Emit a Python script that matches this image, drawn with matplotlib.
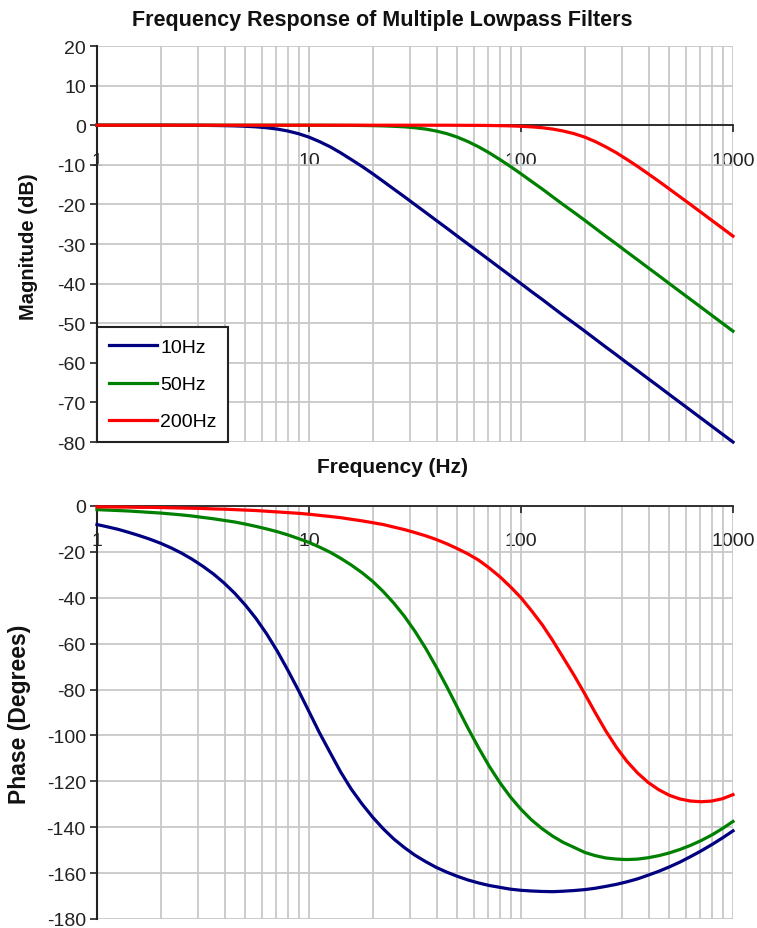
import numpy as np
import matplotlib
matplotlib.use('Agg')
import matplotlib.pyplot as plt
from matplotlib.ticker import LogLocator, NullFormatter

plt.rcParams['font.family'] = ['Liberation Sans', 'DejaVu Sans']
plt.rcParams['axes.unicode_minus'] = False

# frequencies (Hz) and values
freq = [1, 1.12, 1.26, 1.41, 1.58, 1.78, 2.0, 2.24, 2.51, 2.82,
        3.16, 3.55, 3.98, 4.47, 5.01, 5.62, 6.31, 7.08, 7.94, 8.91,
        10, 11.2, 12.6, 14.1, 15.8, 17.8, 20.0, 22.4, 25.1, 28.2,
        31.6, 35.5, 39.8, 44.7, 50.1, 56.2, 63.1, 70.8, 79.4, 89.1,
        100, 112, 126, 141, 158, 178, 200, 224, 251, 282,
        316, 355, 398, 447, 501, 562, 631, 708, 794, 891,
        1000]

mag_10 = [0, 0, 0, 0, 0, 0, 0, 0, -0.02, -0.03,
          -0.04, -0.07, -0.11, -0.17, -0.27, -0.41, -0.64, -0.97, -1.46, -2.13,
          -3.01, -4.13, -5.46, -6.97, -8.64, -10.41, -12.27, -14.17, -16.11, -18.07,
          -20.04, -22.03, -24.02, -26.01, -28.01, -30, -32, -34, -36, -38,
          -40, -42, -44, -46, -48, -50, -52, -54, -56, -58,
          -60, -62, -64, -66, -68, -70, -72, -74, -76, -78,
          -80]
mag_50 = [0, 0, 0, 0, 0, 0, 0, 0, 0, 0,
          0, 0, 0, 0, 0, 0, 0, 0, 0, 0,
          0, 0, -0.02, -0.03, -0.04, -0.07, -0.11, -0.17, -0.27, -0.41,
          -0.64, -0.97, -1.46, -2.13, -3.01, -4.13, -5.46, -6.97, -8.64, -10.41,
          -12.27, -14.17, -16.11, -18.07, -20.04, -22.03, -24.02, -26.01, -28.01, -30,
          -32, -34, -36, -38, -40, -42, -44, -46, -48, -50,
          -52]
mag_200 = [0, 0, 0, 0, 0, 0, 0, 0, 0, 0,
           0, 0, 0, 0, 0, 0, 0, 0, 0, 0,
           0, 0, 0, 0, 0, 0, 0, 0, 0, 0,
           0, 0, 0, 0, -0.02, -0.03, -0.04, -0.07, -0.11, -0.17,
           -0.27, -0.41, -0.64, -0.97, -1.46, -2.13, -3.01, -4.13, -5.46, -6.97,
           -8.64, -10.41, -12.27, -14.17, -16.11, -18.07, -20.04, -22.03, -24.02, -26.01,
           -28.01]

phase_10 = [-8.1, -9.1, -10.2, -11.5, -12.9, -14.5, -16.3, -18.3, -20.6, -23.3,
            -26.3, -29.7, -33.6, -38.1, -43.2, -49.0, -55.7, -63.2, -71.5, -80.3,
            -89.6, -98.8, -107.6, -115.9, -123.3, -129.9, -135.7, -140.7, -145.1, -148.9,
            -152.2, -155.0, -157.5, -159.6, -161.4, -163.0, -164.3, -165.4, -166.2, -167.0,
            -167.5, -167.8, -168.0, -168.1, -167.9, -167.6, -167.2, -166.6, -165.8, -164.9,
            -163.8, -162.5, -160.9, -159.2, -157.3, -155.2, -152.8, -150.3, -147.6, -144.7,
            -141.6]
phase_50 = [-1.6, -1.8, -2.0, -2.2, -2.5, -2.8, -3.1, -3.5, -3.9, -4.4,
            -5.0, -5.6, -6.3, -7.0, -7.9, -8.9, -10.0, -11.2, -12.6, -14.2,
            -15.9, -17.9, -20.2, -22.8, -25.7, -29.1, -32.9, -37.3, -42.3, -48.1,
            -54.6, -62.0, -70.1, -78.8, -87.8, -96.8, -105.4, -113.4, -120.5, -126.8,
            -132.2, -136.8, -140.7, -143.9, -146.6, -148.8, -151.0, -152.4, -153.4, -153.9,
            -154.1, -153.9, -153.3, -152.4, -151.2, -149.7, -147.9, -145.8, -143.4, -140.6,
            -137.5]
phase_200 = [-0.4, -0.4, -0.5, -0.5, -0.6, -0.6, -0.7, -0.8, -0.9, -1.0,
             -1.1, -1.3, -1.4, -1.6, -1.8, -2.0, -2.3, -2.6, -2.9, -3.2,
             -3.6, -4.1, -4.6, -5.1, -5.8, -6.5, -7.3, -8.1, -9.2, -10.3,
             -11.6, -13.0, -14.6, -16.5, -18.6, -20.9, -23.6, -27.0, -30.8, -35.2,
             -40.0, -45.6, -51.8, -58.6, -66.0, -73.8, -81.9, -90.1, -98.0, -105.2,
             -111.3, -116.4, -120.5, -123.7, -126.1, -127.7, -128.6, -128.9, -128.6, -127.6,
             -125.8]

labels = ['10Hz', '50Hz', '200Hz']
colors = ['#000080', '#008000', '#ff0000']
grid_col = '#c8c8c8'

fig = plt.figure(figsize=(7.57, 9.29), dpi=100)
ax1 = fig.add_axes([0.1281, 0.5231, 0.8402, 0.4263])
ax2 = fig.add_axes([0.1281, 0.0097, 0.8402, 0.4446])


def style_axis(ax, ylim, yticks):
    ax.set_xscale('log')
    ax.set_xlim(1, 1000)
    ax.set_ylim(*ylim)
    ax.set_yticks(yticks)
    ax.set_yticklabels([str(v) for v in yticks])
    ax.set_xticks([1, 10, 100, 1000])
    ax.set_xticklabels(['1', '10', '100', '1000'])
    ax.xaxis.set_minor_locator(LogLocator(base=10, subs=np.arange(2, 10)))
    ax.xaxis.set_minor_formatter(NullFormatter())
    ax.grid(True, which='both', axis='x', color=grid_col, lw=1.3, zorder=0)
    ax.grid(True, which='major', axis='y', color=grid_col, lw=1.3, zorder=0)
    ax.set_axisbelow(True)
    ax.spines['top'].set_visible(False)
    ax.spines['right'].set_visible(False)
    ax.spines['bottom'].set_position(('data', 0))
    ax.spines['bottom'].set_color('#222222')
    ax.spines['left'].set_color('#222222')
    ax.spines['bottom'].set_linewidth(1.3)
    ax.spines['left'].set_linewidth(1.5)
    ax.tick_params(axis='x', which='major', direction='out', length=5, width=1.2,
                   pad=14, labelsize=14, colors='#222222')
    ax.tick_params(axis='x', which='minor', length=0)
    ax.tick_params(axis='y', direction='out', length=5, width=1.2, pad=3,
                   labelsize=14, colors='#222222')


style_axis(ax1, (-80, 20), list(range(-80, 30, 10)))
style_axis(ax2, (-180, 0), list(range(-180, 20, 20)))

for y, c, lab in zip([mag_10, mag_50, mag_200], colors, labels):
    ax1.plot(freq, y, color=c, lw=2.3, label=lab, zorder=3, clip_on=False)
for y, c in zip([phase_10, phase_50, phase_200], colors):
    ax2.plot(freq, y, color=c, lw=2.3, zorder=3, clip_on=False)

leg = ax1.legend(loc='lower left', bbox_to_anchor=(0, 0), borderaxespad=0,
                 fontsize=14, frameon=True, fancybox=False, framealpha=1,
                 edgecolor='#222222', handlelength=2.5, handletextpad=0.15,
                 labelspacing=1.0, borderpad=0.6)
leg.get_frame().set_linewidth(1.5)
leg.set_zorder(5)

fig.text(0.505, 0.978, 'Frequency Response of Multiple Lowpass Filters',
         ha='center', va='center', fontsize=15.5, fontweight='bold', color='#111111')
fig.text(0.519, 1 - 468 / 929, 'Frequency (Hz)', ha='center', va='center',
         fontsize=15, fontweight='bold', color='#111111')
fig.text(28 / 757, 1 - 247 / 929, 'Magnitude (dB)', ha='center', va='center',
         rotation=90, fontsize=14.5, fontweight='bold', color='#111111')
fig.text(20 / 757, 1 - 714 / 929, 'Phase (Degrees)', ha='center', va='center',
         rotation=90, fontsize=16.5, fontweight='bold', color='#111111')

fig.savefig('out.png', dpi=100)
